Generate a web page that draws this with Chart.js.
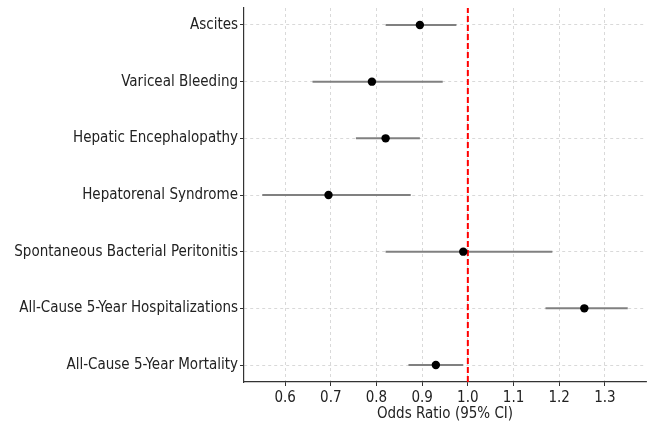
<!DOCTYPE html>
<html>
<head>
<meta charset="utf-8">
<script src="https://cdn.jsdelivr.net/npm/chart.js@4.4.0/dist/chart.umd.min.js"></script>
<style>
  html, body { margin: 0; padding: 0; background: #fff; }
  #wrap { width: 651px; height: 426px; }
</style>
</head>
<body>
<div id="wrap"><canvas id="chart" width="651" height="426"></canvas></div>
<script>
// outcomes, bottom to top (index 0 is at the bottom)
var outcomes = [
  "All-Cause 5-Year Mortality",
  "All-Cause 5-Year Hospitalizations",
  "Spontaneous Bacterial Peritonitis",
  "Hepatorenal Syndrome",
  "Hepatic Encephalopathy",
  "Variceal Bleeding",
  "Ascites"
];
// odds ratios and 95% CI bounds
var oddsRatio = [0.93, 1.255, 0.99, 0.695, 0.82, 0.79, 0.895];
var ciLow     = [0.87, 1.17, 0.82, 0.55, 0.755, 0.66, 0.82];
var ciHigh    = [0.99, 1.35, 1.185, 0.875, 0.895, 0.945, 0.975];
var xTicks = [0.6, 0.7, 0.8, 0.9, 1.0, 1.1, 1.2, 1.3];
var refLine = 1.0;

var fontFam = "'DejaVu Sans Condensed', 'DejaVu Sans', sans-serif";

// one grey line per confidence interval
var datasets = [];
for (var i = 0; i < outcomes.length; i++) {
  datasets.push({
    type: 'line',
    data: [{x: ciLow[i], y: i}, {x: ciHigh[i], y: i}],
    borderColor: '#808080',
    borderWidth: 2,
    pointRadius: 0,
    fill: false,
    order: 3
  });
}
// point estimates
datasets.push({
  type: 'scatter',
  data: oddsRatio.map(function(v, i) { return {x: v, y: i}; }),
  backgroundColor: '#000',
  borderColor: '#000',
  borderWidth: 0,
  pointRadius: 4.2,
  order: 1
});
// no-effect reference line
datasets.push({
  type: 'line',
  data: [{x: refLine, y: -0.3}, {x: refLine, y: 6.3}],
  borderColor: '#ff0000',
  borderWidth: 2,
  borderDash: [6, 3],
  pointRadius: 0,
  fill: false,
  order: 2
});

new Chart(document.getElementById('chart'), {
  data: { datasets: datasets },
  options: {
    responsive: false,
    animation: false,
    layout: { padding: { top: 8, right: 5, left: 0, bottom: 0 } },
    plugins: { legend: { display: false }, tooltip: { enabled: false } },
    scales: {
      x: {
        type: 'linear',
        min: 0.51,
        max: 1.39,
        afterBuildTicks: function(scale) {
          scale.ticks = xTicks.map(function(v) { return {value: v}; });
        },
        ticks: {
          color: '#222',
          font: { family: fontFam, size: 15 },
          padding: 3,
          callback: function(v) { return Number(v).toFixed(1); }
        },
        grid: {
          color: '#d0d0d0',
          lineWidth: 0.8,
          tickColor: '#333',
          tickLength: 4,
          tickWidth: 1,
          tickBorderDash: []
        },
        border: { display: true, color: '#333', width: 1.2, dash: [3, 3] },
        title: {
          display: true,
          text: 'Odds Ratio (95% CI)',
          color: '#222',
          font: { family: fontFam, size: 15 },
          padding: { top: 1, bottom: 3 }
        },
        afterFit: function(scale) {
          scale.height = 44;
          scale.paddingLeft = 0;
          scale.paddingRight = 0;
        }
      },
      y: {
        type: 'linear',
        min: -0.3,
        max: 6.3,
        afterBuildTicks: function(scale) {
          scale.ticks = outcomes.map(function(o, i) { return {value: i}; });
        },
        ticks: {
          color: '#222',
          font: { family: fontFam, size: 15 },
          padding: 2,
          callback: function(v) { return outcomes[v]; }
        },
        grid: {
          color: '#d0d0d0',
          lineWidth: 0.8,
          tickColor: '#333',
          tickLength: 4,
          tickWidth: 1,
          tickBorderDash: []
        },
        border: { display: true, color: '#333', width: 1.2, dash: [3, 3] },
        afterFit: function(scale) {
          scale.width = 244;
          scale.paddingTop = 0;
          scale.paddingBottom = 0;
        }
      }
    }
  }
});
</script>
</body>
</html>
